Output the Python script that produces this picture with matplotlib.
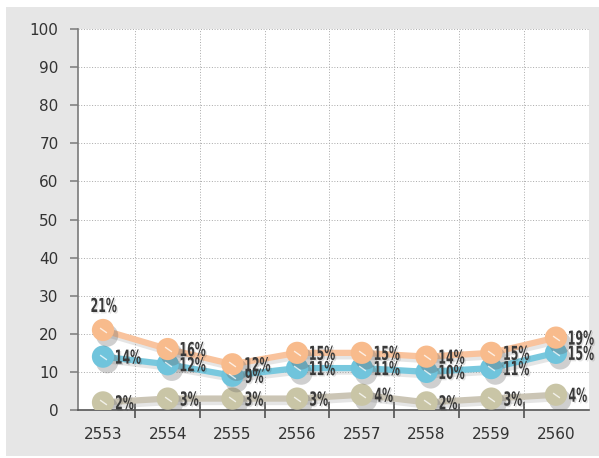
import matplotlib
matplotlib.use("Agg")
import matplotlib.pyplot as plt
import matplotlib.patheffects as pe
from matplotlib.patches import Rectangle, PathPatch
from matplotlib.textpath import TextPath
from matplotlib.font_manager import FontProperties
from matplotlib.transforms import Affine2D

years = ["2553", "2554", "2555", "2556", "2557", "2558", "2559", "2560"]
orange_vals = [21, 16, 12, 15, 15, 14, 15, 19]
blue_vals = [14, 12, 9, 11, 11, 10, 11, 15]
gray_vals = [2, 3, 3, 3, 4, 2, 3, 4]
y_ticks = [0, 10, 20, 30, 40, 50, 60, 70, 80, 90, 100]

series = [
    (gray_vals, "#cbc5b5", "#c9c5a6"),
    (blue_vals, "#78c8de", "#70c4dc"),
    (orange_vals, "#f9c39d", "#f8bb8c"),
]

DPI = 100
fig = plt.figure(figsize=(5.99, 4.58), dpi=DPI)
fig.patch.set_facecolor("white")
fig.patches.append(Rectangle((6 / 599, 1 - 456 / 458), 593 / 599, 449 / 458,
                             transform=fig.transFigure, facecolor="#e6e6e6",
                             edgecolor="none", zorder=-10))

ax = fig.add_axes([78 / 599, 1 - 410 / 458, 511 / 599, 381 / 458])
ax.set_facecolor("white")
ax.set_xlim(-0.386, 7.51)
ax.set_ylim(0, 100)

x = list(range(len(years)))
shadow = [pe.SimplePatchShadow(offset=(3, -4), shadow_rgbFace="#606060", alpha=0.3), pe.Normal()]

for vals, lc, mc in series:
    ax.plot(x, vals, color=lc, lw=4.5, solid_capstyle="round", zorder=3,
            path_effects=[pe.SimpleLineShadow(offset=(1.5, -2.5), shadow_color="#999999", alpha=0.25), pe.Normal()])
    ax.plot(x, vals, ls="none", marker="o", ms=16, mfc=mc, mec="none", zorder=4,
            path_effects=shadow)
    ax.plot(x, vals, ls="none", marker=(2, 0, 55), ms=6, mec="white", mew=1.0, alpha=0.75, zorder=5)

fp = FontProperties(family="DejaVu Sans", stretch="condensed", weight="bold")
SX, SY = 0.84, 1.32
px = DPI / 72.0


def narrow_label(s, xd, yd, dx_px, dy_px, align="left"):
    tp = TextPath((0, 0), s, size=10.5, prop=fp)
    ext = tp.get_extents()
    w = ext.width * SX * px
    h = ext.height * SY * px
    X, Y = ax.transData.transform((xd, yd))
    if align == "left":
        x0 = X + dx_px
    else:
        x0 = X + dx_px - w / 2
    y0 = Y + dy_px - h / 2
    tr = Affine2D().translate(-ext.x0, -ext.y0).scale(SX * px, SY * px).translate(x0, y0)
    patch = PathPatch(tp, transform=tr, facecolor="#3a3a3a", edgecolor="none", lw=0,
                      zorder=6, clip_on=False,
                      path_effects=[pe.SimplePatchShadow(offset=(1, -1), alpha=0.12), pe.Normal()])
    fig.add_artist(patch)


for i, vals in enumerate([orange_vals, blue_vals, gray_vals]):
    for j, v in enumerate(vals):
        if i == 0 and j == 0:
            narrow_label(f"{v}%", j, v, 1, 25, align="center")
        else:
            narrow_label(f"{v}%", j, v, 13, 0)

ax.set_yticks(y_ticks)
ax.set_xticks(x)
ax.set_xticklabels(years)
ax.set_xticks([k + 0.5 for k in range(7)], minor=True)

ax.grid(False)
for yv in y_ticks[1:]:
    ax.axhline(yv, color="#a8a8a8", lw=0.7, ls=(0, (1, 1.8)), zorder=1)
for xv in [k + 0.5 for k in range(7)]:
    ax.axvline(xv, color="#a8a8a8", lw=0.7, ls=(0, (1, 1.8)), zorder=1)

for s in ["top", "right"]:
    ax.spines[s].set_visible(False)
ax.spines["left"].set_color("#7a7a7a")
ax.spines["bottom"].set_color("#555555")
ax.spines["left"].set_linewidth(1.2)
ax.spines["bottom"].set_linewidth(1.2)

ax.tick_params(axis="x", which="major", length=0, pad=12, labelsize=11, labelcolor="#333333")
ax.tick_params(axis="x", which="minor", direction="inout", length=11, width=1.1, color="#444444")
ax.tick_params(axis="y", which="major", direction="out", length=6, width=1.1, color="#7a7a7a",
               pad=8, labelsize=11, labelcolor="#333333")

fig.savefig("out.png", dpi=DPI, facecolor=fig.get_facecolor())
